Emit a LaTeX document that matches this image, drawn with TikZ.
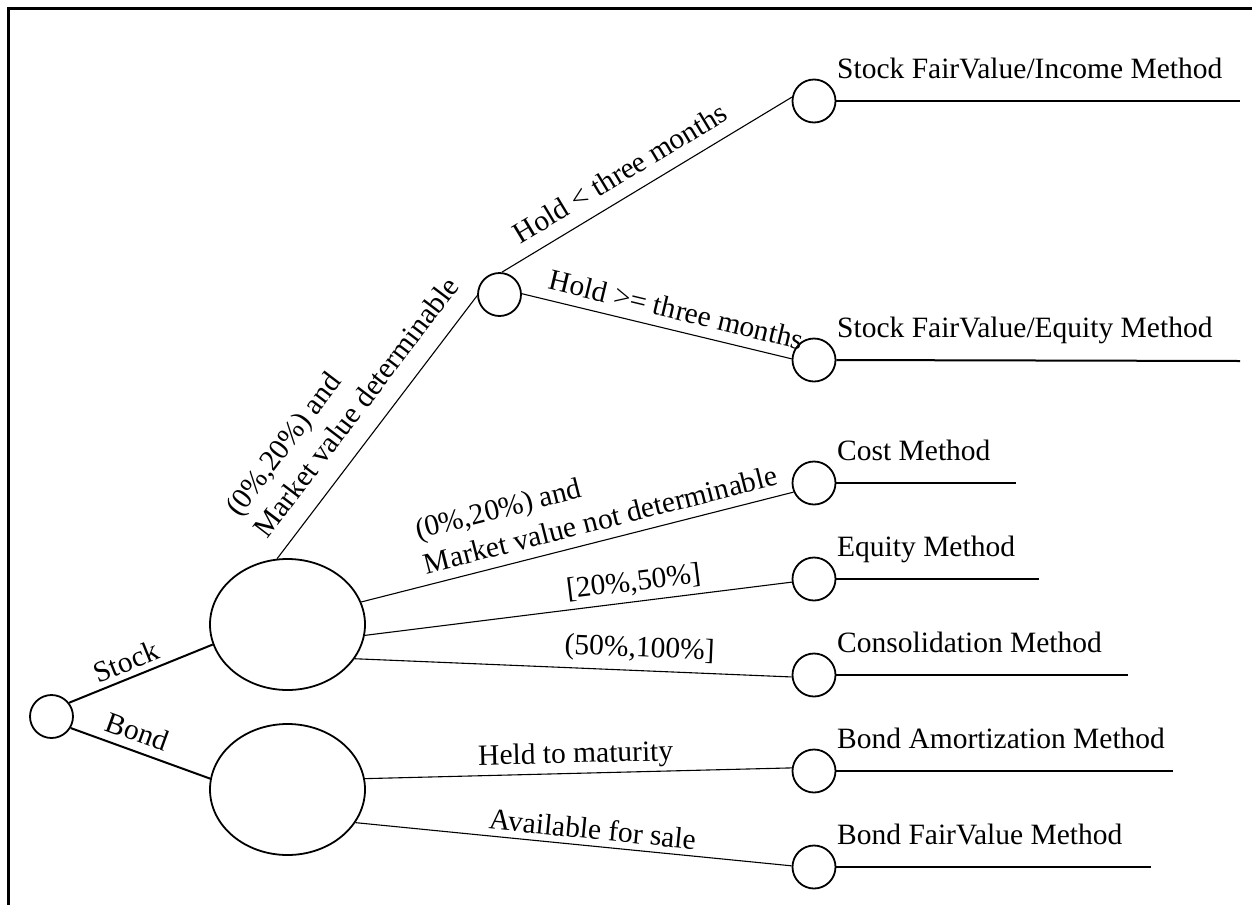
\documentclass[tikz,border=0pt]{standalone}
\usepackage{fontspec}
\setmainfont{Liberation Serif}
\usetikzlibrary{shapes.geometric}
\begin{document}
\begin{tikzpicture}[x=1pt,y=-1pt,
  leaf/.style={circle,draw,line width=1.8pt,minimum size=43pt,inner sep=0pt},
  hub/.style={ellipse,draw,line width=1.8pt,minimum width=155pt,minimum height=131pt,inner sep=0pt},
  branch/.style={line width=1.1pt},
  trunk/.style={line width=2pt},
  tail/.style={line width=2pt},
  lbl/.style={font=\fontsize{29.5}{36}\selectfont,inner sep=0pt,sloped},
  method/.style={font=\fontsize{29.5}{36}\selectfont,inner sep=0pt,anchor=base west}]
\useasboundingbox (0,0) rectangle (1252,905);
% open frame: left and top sides
\draw[line width=3pt] (8.5,905) -- (8.5,8.5) -- (1252,8.5);

% decision points
\node[leaf] (root) at (51.5,716.5) {};
\node[hub] (stock) at (287.5,624.5) {};
\node[hub] (bond) at (287.5,789.5) {};
\node[leaf] (hold) at (499.5,294.5) {};

% outcomes
\node[leaf] (m1) at (814,101) {};
\node[leaf] (m2) at (814,360) {};
\node[leaf] (m3) at (814,483) {};
\node[leaf] (m4) at (814,579) {};
\node[leaf] (m5) at (814,675) {};
\node[leaf] (m6) at (814,771) {};
\node[leaf] (m7) at (814,867) {};

% first split
\draw[trunk] (root.38) -- node[lbl,pos=0.44,above=5.5pt] (lstock) {Stock} (stock.195);
\draw[trunk] (root.-31) -- node[lbl,pos=0.43,above=8pt] (lbond) {Bond} (bond.172);

% stock branches
\draw[branch] (stock.99) -- node[lbl,pos=0.51,above=18pt,align=left] (lmvd) {(0\%,20\%) and\\Market value determinable} (hold.183);
\draw[branch] (hold.84) -- node[lbl,pos=0.45,above=13pt] (lless) {Hold < three months} (m1.170);
\draw[branch] (hold.2) -- node[lbl,pos=0.555,above=10pt] (lmore) {Hold >= three months} (m2.177);
\draw[branch] (stock.17) -- node[lbl,pos=0.565,above=10pt,align=left] (lnd) {(0\%,20\%) and\\Market value not determinable} (m3.204);
\draw[branch] (stock.-8) -- node[lbl,pos=0.635,above=6pt] (lmid) {[20\%,50\%]} (m4.188);
\draw[branch] (stock.-27) -- node[lbl,pos=0.65,above=7pt] (lhigh) {(50\%,100\%]} (m5.185);

% bond branches
\draw[branch] (bond.8) -- node[lbl,pos=0.495,above=3.5pt] (lheld) {Held to maturity} (m6.172);
\draw[branch] (bond.-26) -- node[lbl,pos=0.54,above=6pt] (lsale) {Available for sale} (m7.177);

% outcome lines and names
\coordinate (e1) at (1240,101);
\coordinate (e2) at (1240,361);
\coordinate (e3) at (1016,483);
\coordinate (e4) at (1039,579);
\coordinate (e5) at (1128,675);
\coordinate (e6) at (1173,771);
\coordinate (e7) at (1151,867);
\draw[tail] (m1.east) -- (e1);
\draw[tail] (m2.east) -- (e2);
\draw[tail] (m3.east) -- (e3);
\draw[tail] (m4.east) -- (e4);
\draw[tail] (m5.east) -- (e5);
\draw[tail] (m6.east) -- (e6);
\draw[tail] (m7.east) -- (e7);
\node[method] (t1) at (837,78.5) {Stock FairValue/Income Method};
\node[method] (t2) at (837,337.5) {Stock FairValue/Equity Method};
\node[method] (t3) at (837,460.5) {Cost Method};
\node[method] (t4) at (837,556.5) {Equity Method};
\node[method] (t5) at (837,652.5) {Consolidation Method};
\node[method] (t6) at (837,748.5) {Bond Amortization Method};
\node[method] (t7) at (837,844.5) {Bond FairValue Method};
\end{tikzpicture}
\end{document}
